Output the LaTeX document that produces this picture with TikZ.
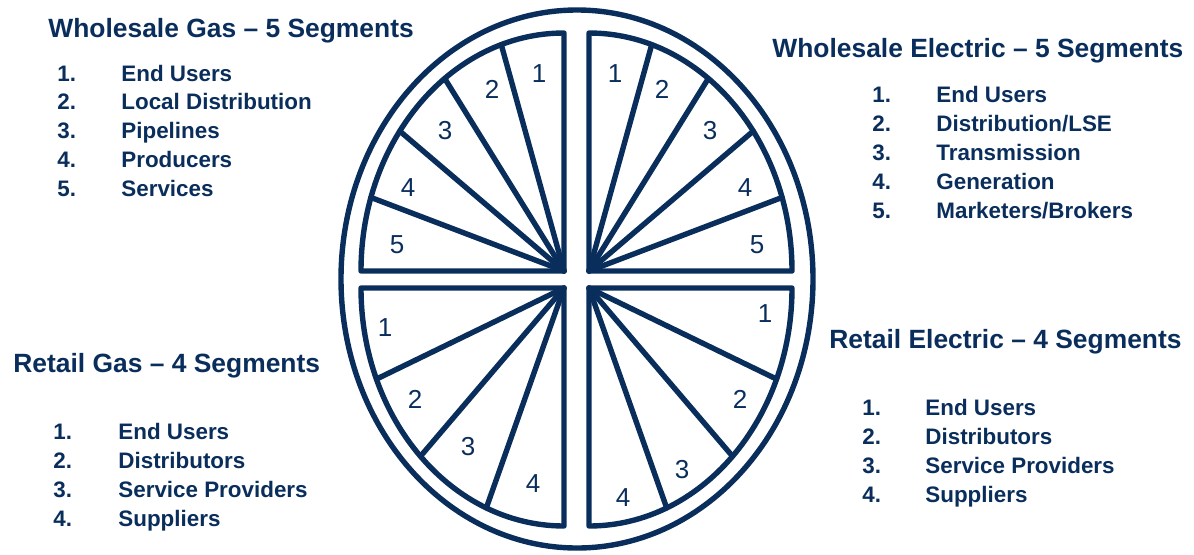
\documentclass[tikz,border=0pt]{standalone}
\usepackage{fontspec}
\setmainfont{Liberation Sans}
\usetikzlibrary{calc}
\definecolor{navy}{HTML}{0A2E5C}

\begin{document}
\begin{tikzpicture}[
    x=0.5pt, y=0.5pt,
    wheel/.style={draw=navy, line width=2.7pt, line join=round},
    spoke/.style={draw=navy, line width=2.7pt, line cap=round},
    segnum/.style={text=navy, font=\fontsize{13}{15}\selectfont, inner sep=0pt},
    heading/.style={text=navy, font=\bfseries\fontsize{13.2}{15}\selectfont, anchor=base west, inner sep=0pt},
    item/.style={text=navy, font=\bfseries\fontsize{11.2}{13}\selectfont, anchor=base west, inner sep=0pt}
]
\useasboundingbox (0,0) rectangle (1194,554);

% outer ring
\draw[wheel] (577,275) ellipse [x radius=236, y radius=269];

% the four quarters
\coordinate (ul) at (564,283);
\coordinate (ur) at (589,283);
\coordinate (ll) at (564,266);
\coordinate (lr) at (589,266);

\draw[wheel] (ul) -- ++(-203,0) arc[start angle=180, end angle=90, x radius=203, y radius=238] -- cycle;
\draw[wheel] (ur) -- ++(203,0) arc[start angle=0, end angle=90, x radius=203, y radius=238] -- cycle;
\draw[wheel] (ll) -- ++(-203,0) arc[start angle=180, end angle=270, x radius=203, y radius=238] -- cycle;
\draw[wheel] (lr) -- ++(203,0) arc[start angle=0, end angle=-90, x radius=203, y radius=238] -- cycle;

\foreach \a in {108,126,144,162} \draw[spoke] (ul) -- ($(ul)+({203*cos(\a)},{238*sin(\a)})$);
\foreach \a in {18,36,54,72} \draw[spoke] (ur) -- ($(ur)+({203*cos(\a)},{238*sin(\a)})$);
\foreach \a in {202.5,225,247.5} \draw[spoke] (ll) -- ($(ll)+({203*cos(\a)},{238*sin(\a)})$);
\foreach \a in {292.5,315,337.5} \draw[spoke] (lr) -- ($(lr)+({203*cos(\a)},{238*sin(\a)})$);

% segment numbers
\node[segnum] (ul1) at (539,480) {1};
\node[segnum] (ul2) at (492,465) {2};
\node[segnum] (ul3) at (445,423) {3};
\node[segnum] (ul4) at (408,366) {4};
\node[segnum] (ul5) at (397,309) {5};
\node[segnum] (ur1) at (615,480) {1};
\node[segnum] (ur2) at (662,465) {2};
\node[segnum] (ur3) at (710,423) {3};
\node[segnum] (ur4) at (745,366) {4};
\node[segnum] (ur5) at (757,309) {5};
\node[segnum] (ll1) at (385,226) {1};
\node[segnum] (ll2) at (415,155) {2};
\node[segnum] (ll3) at (468,107) {3};
\node[segnum] (ll4) at (533,70) {4};
\node[segnum] (lr1) at (765,240) {1};
\node[segnum] (lr2) at (740,155) {2};
\node[segnum] (lr3) at (682,84) {3};
\node[segnum] (lr4) at (623,56) {4};

% headings and lists
\node[heading] (wgtitle) at (48,517) {Wholesale Gas -- 5 Segments};
\foreach \t [count=\i] in {End Users, Local Distribution, Pipelines, Producers, Services} {
  \node[item] (wgn\i) at (57,{473-28.75*(\i-1)}) {\i.};
  \node[item] (wgt\i) at (121,{473-28.75*(\i-1)}) {\t};
}

\node[heading] (wetitle) at (772,497) {Wholesale Electric -- 5 Segments};
\foreach \t [count=\i] in {End Users, Distribution/LSE, Transmission, Generation, Marketers/Brokers} {
  \node[item] (wen\i) at (872,{452-29*(\i-1)}) {\i.};
  \node[item] (wet\i) at (936,{452-29*(\i-1)}) {\t};
}

\node[heading] (rgtitle) at (13,182) {Retail Gas -- 4 Segments};
\foreach \t [count=\i] in {End Users, Distributors, Service Providers, Suppliers} {
  \node[item] (rgn\i) at (53,{115-29*(\i-1)}) {\i.};
  \node[item] (rgt\i) at (118,{115-29*(\i-1)}) {\t};
}

\node[heading] (retitle) at (829,206) {Retail Electric -- 4 Segments};
\foreach \t [count=\i] in {End Users, Distributors, Service Providers, Suppliers} {
  \node[item] (ren\i) at (862,{139-29*(\i-1)}) {\i.};
  \node[item] (ret\i) at (925,{139-29*(\i-1)}) {\t};
}
\end{tikzpicture}
\end{document}
